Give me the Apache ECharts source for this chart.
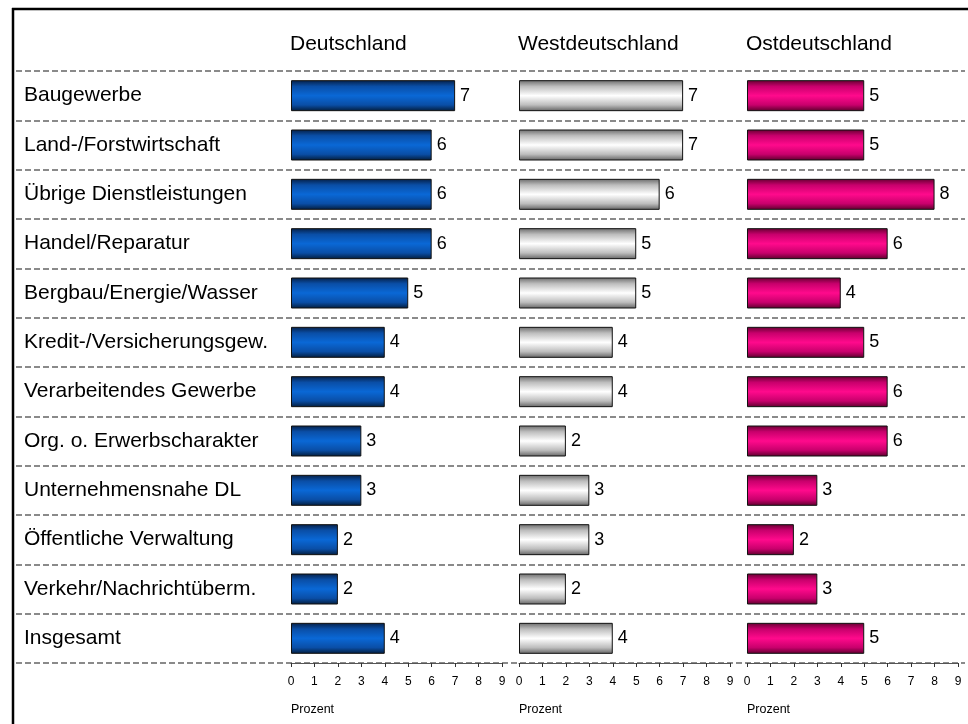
<!DOCTYPE html>
<html>
<head>
<meta charset="utf-8">
<script src="https://cdn.jsdelivr.net/npm/echarts@6/dist/echarts.min.js"></script>
<style>
  html, body { margin: 0; padding: 0; background: #fff; }
  #chart { width: 968px; height: 724px; }
</style>
</head>
<body>
<div id="chart"></div>
<script>
// Branches, top to bottom
const categories = [
  'Baugewerbe',
  'Land-/Forstwirtschaft',
  'Übrige Dienstleistungen',
  'Handel/Reparatur',
  'Bergbau/Energie/Wasser',
  'Kredit-/Versicherungsgew.',
  'Verarbeitendes Gewerbe',
  'Org. o. Erwerbscharakter',
  'Unternehmensnahe DL',
  'Öffentliche Verwaltung',
  'Verkehr/Nachrichtüberm.',
  'Insgesamt'
];

// Values in percent per region
const deutschland     = [7, 6, 6, 6, 5, 4, 4, 3, 3, 2, 2, 4];
const westdeutschland = [7, 7, 6, 5, 5, 4, 4, 2, 3, 3, 2, 4];
const ostdeutschland  = [5, 5, 8, 6, 4, 5, 6, 6, 3, 2, 3, 5];

const panelTitles = ['Deutschland', 'Westdeutschland', 'Ostdeutschland'];
const axisName = 'Prozent';
const axisTicks = [0, 1, 2, 3, 4, 5, 6, 7, 8, 9];

const FONT = 'Liberation Sans, Arial, sans-serif';

function grad(stops) {
  return new echarts.graphic.LinearGradient(0, 0, 0, 1,
    stops.map(s => ({ offset: s[0], color: s[1] })));
}

const fills = [
  grad([[0, '#051f45'], [0.2, '#0a4ea6'], [0.5, '#0a68d6'], [0.8, '#0a4ea6'], [1, '#031c3a']]),
  grad([[0, '#6a6a6a'], [0.2, '#bdbdbd'], [0.5, '#ffffff'], [0.8, '#bdbdbd'], [1, '#626262']]),
  grad([[0, '#640030'], [0.2, '#c8006c'], [0.5, '#ff0a8c'], [0.8, '#c8006c'], [1, '#5a002b']])
];

const panels = [
  { left: 291, data: deutschland },
  { left: 519, data: westdeutschland },
  { left: 747, data: ostdeutschland }
];
const PANEL_W = 211;
const TOP = 71;
const BOTTOM = 61;

const grids = [{ left: 16, right: 3, top: TOP, bottom: BOTTOM }];
const xAxes = [{ gridIndex: 0, type: 'value', min: 0, max: 1, show: false }];
const yAxes = [{
  gridIndex: 0,
  type: 'category',
  data: categories,
  inverse: true,
  axisLine: { show: false },
  axisTick: { show: false },
  axisLabel: { inside: true, margin: 8, fontSize: 21, color: '#000', fontFamily: FONT, padding: [4, 0, 0, 0] },
  splitLine: { show: true, lineStyle: { color: '#8a8a8a', width: 2, type: [6, 3] } }
}];
const series = [];
const titles = [];

panels.forEach((p, i) => {
  const g = i + 1;
  grids.push({ left: p.left, width: PANEL_W, top: TOP, bottom: BOTTOM });
  xAxes.push({
    gridIndex: g,
    type: 'value',
    min: axisTicks[0],
    max: axisTicks[axisTicks.length - 1],
    interval: 1,
    axisLine: { show: true, lineStyle: { color: '#555', width: 1 } },
    axisTick: { show: true, length: 4, lineStyle: { color: '#333' } },
    axisLabel: { fontSize: 12, color: '#000', margin: 13, fontFamily: FONT },
    splitLine: { show: false }
  });
  yAxes.push({
    gridIndex: g,
    type: 'category',
    data: categories,
    inverse: true,
    show: false
  });
  series.push({
    type: 'bar',
    xAxisIndex: g,
    yAxisIndex: g,
    data: p.data,
    barWidth: 31,
    itemStyle: { color: fills[i], borderColor: '#111', borderWidth: 1 },
    label: {
      show: true,
      position: 'right',
      distance: 5,
      fontSize: 18,
      color: '#000',
      fontFamily: FONT
    }
  });
  titles.push({
    text: panelTitles[i],
    left: p.left - 6,
    top: 29,
    textStyle: { fontSize: 21, fontWeight: 'normal', color: '#000', fontFamily: FONT }
  });
  titles.push({
    text: axisName,
    left: p.left - 5,
    top: 698,
    textStyle: { fontSize: 12.5, fontWeight: 'normal', color: '#000', fontFamily: FONT }
  });
});

const chart = echarts.init(document.getElementById('chart'), null, { renderer: 'canvas' });
chart.setOption({
  animation: false,
  backgroundColor: '#fff',
  title: titles,
  grid: grids,
  xAxis: xAxes,
  yAxis: yAxes,
  series: series,
  graphic: [
    { type: 'line', shape: { x1: 12, y1: 9, x2: 968, y2: 9 }, style: { stroke: '#000', lineWidth: 2.5 }, z: 10 },
    { type: 'line', shape: { x1: 13, y1: 8, x2: 13, y2: 724 }, style: { stroke: '#000', lineWidth: 2.5 }, z: 10 }
  ]
});
</script>
</body>
</html>
